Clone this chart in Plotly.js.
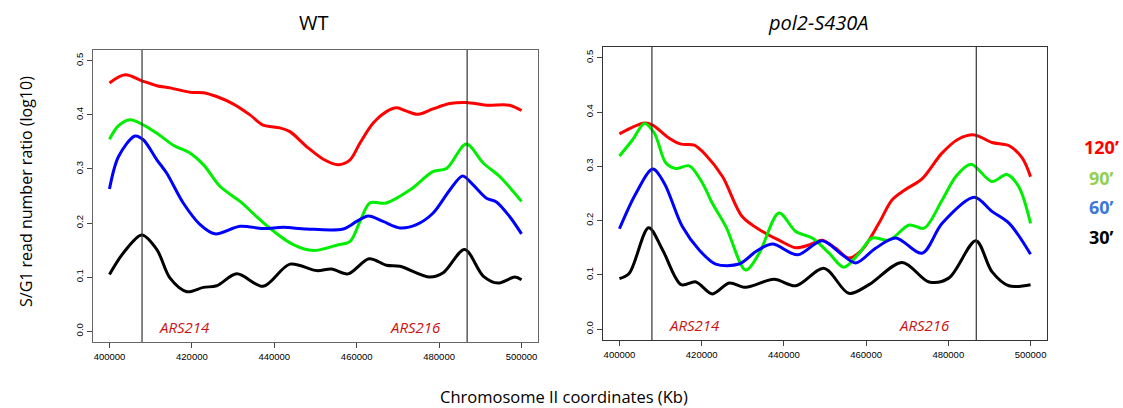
<!DOCTYPE html>
<html><head><meta charset="utf-8">
<script src="https://cdn.plot.ly/plotly-3.0.1.min.js"></script>
<style>html,body{margin:0;padding:0;background:#fff}#chart{width:1123px;height:408px}</style>
</head><body><div id="chart"></div>
<script>
// ---- tick labels ----
const xTicks = [400000, 420000, 440000, 460000, 480000, 500000];
const yTicks = [0.0, 0.1, 0.2, 0.3, 0.4, 0.5];
const arsPos = [407900, 486800];
const arsNames = ['ARS214', 'ARS216'];
const panelTitles = ['WT', 'pol2-S430A'];
const timeLabels = ['120’', '90’', '60’', '30’'];

// ---- WT ----
const wt_x_120 = [400000,403800,407850,411500,414700,419600,422800,426000,430100,434100,437300,441400,443800,447900,451900,455500,458400,460800,464000,467200,469700,472100,474900,478500,482600,486600,491500,497100,500000];
const wt_y_120 = [0.459,0.474,0.463,0.454,0.450,0.442,0.441,0.434,0.420,0.400,0.381,0.376,0.369,0.341,0.318,0.308,0.317,0.348,0.385,0.406,0.413,0.407,0.401,0.411,0.421,0.423,0.418,0.418,0.408];
const wt_x_90 = [400000,402200,405000,407850,411500,415500,419600,422800,426800,431700,435700,439800,444600,449500,455100,458400,460800,463200,467200,472900,478500,481800,486600,490700,494700,500000];
const wt_y_90 = [0.355,0.380,0.391,0.383,0.366,0.344,0.329,0.308,0.268,0.240,0.212,0.185,0.160,0.149,0.159,0.166,0.203,0.237,0.237,0.261,0.295,0.301,0.346,0.311,0.286,0.240];
const wt_x_60 = [400000,402200,406200,408200,411500,413900,417900,422000,425600,431700,437300,442200,447800,456700,460000,462800,466400,470500,474500,478500,482600,485700,488200,491500,493900,497100,500000];
const wt_y_60 = [0.263,0.323,0.361,0.354,0.317,0.292,0.237,0.197,0.180,0.194,0.190,0.192,0.189,0.189,0.203,0.213,0.203,0.191,0.197,0.218,0.261,0.287,0.271,0.246,0.239,0.212,0.180];
const wt_x_30 = [400000,403400,407850,411500,414700,418800,422800,426000,430900,437300,443800,450300,453900,457900,463000,467200,470500,477700,481000,486200,490700,494300,498400,500000];
const wt_y_30 = [0.105,0.145,0.178,0.151,0.098,0.073,0.081,0.084,0.106,0.083,0.124,0.112,0.115,0.106,0.134,0.122,0.120,0.100,0.108,0.151,0.102,0.089,0.100,0.095];

// ---- pol2-S430A ----
const mu_x_120 = [400000,406100,408100,412100,415000,418200,421000,425100,429900,434800,438800,442900,446100,449300,452600,455800,459000,463100,466300,469500,473600,478400,482400,486300,490600,494800,498000,500000];
const mu_y_120 = [0.360,0.380,0.376,0.352,0.341,0.339,0.321,0.281,0.207,0.180,0.164,0.150,0.155,0.164,0.149,0.131,0.146,0.195,0.238,0.257,0.277,0.324,0.350,0.358,0.344,0.338,0.315,0.281];
const mu_x_90 = [400000,403200,406100,408500,411300,413700,417000,420200,422600,425900,430700,434000,438800,442900,446900,451000,454600,458300,461500,465600,470500,474100,478500,481800,485500,490600,494200,497100,500000];
const mu_y_90 = [0.319,0.349,0.379,0.361,0.306,0.296,0.301,0.269,0.232,0.189,0.109,0.140,0.214,0.180,0.168,0.140,0.114,0.140,0.168,0.164,0.192,0.186,0.238,0.281,0.304,0.272,0.285,0.263,0.195];
const mu_x_60 = [400000,404000,408100,410900,415300,419400,423400,429100,433200,437200,443300,449300,454200,457500,462300,467200,473600,478500,486300,490600,494800,500000];
const mu_y_60 = [0.185,0.250,0.295,0.269,0.189,0.146,0.120,0.120,0.143,0.157,0.137,0.163,0.137,0.122,0.149,0.168,0.140,0.195,0.243,0.217,0.195,0.138];
const mu_x_30 = [400000,402400,407100,410500,415000,418600,422600,426700,430700,437600,442900,449800,455800,460700,468800,475300,480100,486700,490600,494700,500000];
const mu_y_30 = [0.093,0.103,0.187,0.146,0.082,0.087,0.065,0.085,0.077,0.092,0.080,0.112,0.066,0.082,0.123,0.087,0.094,0.163,0.106,0.080,0.082];

const lineColors = ['#ff0000', '#00ee00', '#0000ff', '#000000'];
const legendColors = ['#ff0000', '#92d050', '#3d78d8', '#000000'];

function tr(x, y, c, xa, ya) {
  return {x: x, y: y, type: 'scatter', mode: 'lines', xaxis: xa, yaxis: ya,
    line: {color: c, width: 3, shape: 'spline', smoothing: 0.9}, hoverinfo: 'skip', showlegend: false};
}
const data = [
  tr(wt_x_120, wt_y_120, lineColors[0], 'x', 'y'),
  tr(wt_x_90, wt_y_90, lineColors[1], 'x', 'y'),
  tr(wt_x_60, wt_y_60, lineColors[2], 'x', 'y'),
  tr(wt_x_30, wt_y_30, lineColors[3], 'x', 'y'),
  tr(mu_x_120, mu_y_120, lineColors[0], 'x2', 'y2'),
  tr(mu_x_90, mu_y_90, lineColors[1], 'x2', 'y2'),
  tr(mu_x_60, mu_y_60, lineColors[2], 'x2', 'y2'),
  tr(mu_x_30, mu_y_30, lineColors[3], 'x2', 'y2')
];

const tickFont = {family: 'Liberation Sans, Arial, sans-serif', size: 9.5, color: '#000'};
function xax(dom, anchor, lc) {
  return {domain: dom, anchor: anchor, range: [396000, 504000], tickvals: xTicks, ticktext: xTicks.map(String),
    ticks: 'outside', ticklen: 5, tickcolor: '#444', showline: true, linecolor: lc, linewidth: 1.3, mirror: true,
    showgrid: false, zeroline: false, tickfont: tickFont, fixedrange: true};
}
function yax(dom, anchor, lc) {
  return {domain: dom, anchor: anchor, range: [-0.02, 0.52], tickvals: yTicks, ticktext: yTicks.map(v => v.toFixed(1)),
    ticks: 'outside', ticklen: 5, tickcolor: '#444', tickangle: -90, showline: true, linecolor: lc, linewidth: 1.3, mirror: true,
    showgrid: false, zeroline: false, tickfont: tickFont, fixedrange: true};
}

const shapes = [];
arsPos.forEach(p => {
  shapes.push({type: 'line', xref: 'x', yref: 'y domain', x0: p, x1: p, y0: 0, y1: 1, line: {color: '#333', width: 1.2}});
  shapes.push({type: 'line', xref: 'x2', yref: 'y2 domain', x0: p, x1: p, y0: 0, y1: 1, line: {color: '#333', width: 1.2}});
});

const mainFont = 'Open Sans, Noto Sans, sans-serif';
const annotations = [
  {text: panelTitles[0], xref: 'paper', yref: 'paper', x: 0.279, y: 1 - 22/408, xanchor: 'center', yanchor: 'middle', showarrow: false, font: {family: mainFont, size: 20, color: '#000'}},
  {text: '<i>' + panelTitles[1] + '</i>', xref: 'paper', yref: 'paper', x: 0.728, y: 1 - 22/408, xanchor: 'center', yanchor: 'middle', showarrow: false, font: {family: mainFont, size: 20, color: '#000'}},
  {text: 'S/G1 read number ratio (log10)', xref: 'paper', yref: 'paper', x: 26/1123, y: 1 - 192/408, xanchor: 'center', yanchor: 'middle', textangle: -90, showarrow: false, font: {family: mainFont, size: 16, color: '#000'}},
  {text: 'Chromosome II coordinates (Kb)', xref: 'paper', yref: 'paper', x: 564/1123, y: 1 - 396/408, xanchor: 'center', yanchor: 'middle', showarrow: false, font: {family: mainFont, size: 16.5, color: '#000'}}
];
// ARS labels
const arsLabelX = [418300, 474200];
[['x', 'y'], ['x2', 'y2']].forEach(ax => {
  arsNames.forEach((n, i) => {
    annotations.push({text: '<i>' + n + '</i>', xref: ax[0], yref: ax[1], x: arsLabelX[i], y: 0.008, xanchor: 'center', yanchor: 'middle', showarrow: false,
      font: {family: mainFont, size: 15, color: '#cc1111'}});
  });
});
const legY = [147, 178, 207, 237];
timeLabels.forEach((t, i) => {
  annotations.push({text: '<b>' + t + '</b>', xref: 'paper', yref: 'paper', x: 1101/1123, y: 1 - legY[i]/408, xanchor: 'center', yanchor: 'middle', showarrow: false,
    font: {family: mainFont, size: 18, color: legendColors[i]}});
});

const layout = {
  width: 1123, height: 408, margin: {l: 0, r: 0, t: 0, b: 0},
  paper_bgcolor: '#fff', plot_bgcolor: '#fff', showlegend: false,
  xaxis: xax([93/1123, 538/1123], 'y', '#666'),
  yaxis: yax([1 - 342/408, 1 - 50/408], 'x', '#666'),
  xaxis2: xax([603/1123, 1047/1123], 'y2', '#333'),
  yaxis2: yax([1 - 340/408, 1 - 47/408], 'x2', '#333'),
  shapes: shapes, annotations: annotations
};
Plotly.newPlot('chart', data, layout, {staticPlot: true, displayModeBar: false});
</script></body></html>
